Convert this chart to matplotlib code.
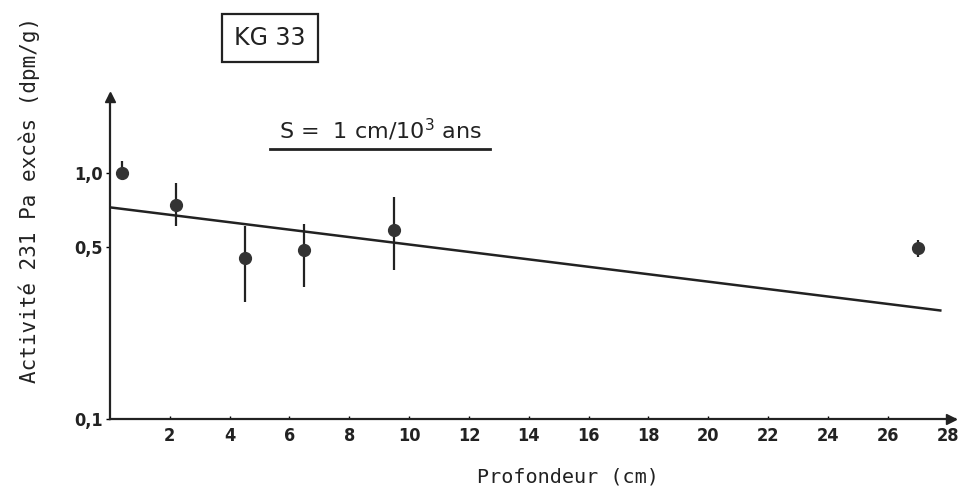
import matplotlib
matplotlib.use("Agg")
import matplotlib.pyplot as plt
from matplotlib.ticker import NullLocator, FixedLocator, FixedFormatter

# Data
depth = [0.4, 2.2, 4.5, 6.5, 9.5, 27.0]
activity = [1.00, 0.745, 0.45, 0.485, 0.585, 0.495]
err_low = [0.05, 0.135, 0.15, 0.14, 0.18, 0.04]
err_high = [0.12, 0.165, 0.16, 0.135, 0.215, 0.04]

fit_depth = [0.0, 27.8]
fit_activity = [0.726, 0.276]

x_ticks = [2, 4, 6, 8, 10, 12, 14, 16, 18, 20, 22, 24, 26, 28]
x_labels = ["2", "4", "6", "8", "10", "12", "14", "16", "18", "20", "22", "24", "26", "28"]
y_ticks = [0.1, 0.5, 1.0]
y_labels = ["0,1", "0,5", "1,0"]

fig = plt.figure(figsize=(9.6, 4.9), dpi=100)
ax = fig.add_axes([110/960, 71/490, (955-110)/960, (419-95)/490])
ax.set_yscale("log")
ax.set_xlim(0, 28.25)
ax.set_ylim(0.1, 2.08)

for s in ["top", "right"]:
    ax.spines[s].set_visible(False)
for s in ["left", "bottom"]:
    ax.spines[s].set_linewidth(1.6)
    ax.spines[s].set_color("#222222")

# arrow heads
ax.plot([0.995], [0], marker=">", color="#222222", markersize=7, transform=ax.transAxes, clip_on=False)
ax.plot([0], [0.995], marker="^", color="#222222", markersize=7, transform=ax.transAxes, clip_on=False)

# fit line
ax.plot(fit_depth, fit_activity, color="#222222", linewidth=1.8, solid_capstyle="butt")

# data points
ax.errorbar(depth, activity, yerr=[err_low, err_high], fmt="o", color="#333333",
            ecolor="#222222", elinewidth=1.6, capsize=0, markersize=8.5)

ax.yaxis.set_major_locator(FixedLocator(y_ticks))
ax.yaxis.set_major_formatter(FixedFormatter(y_labels))
ax.yaxis.set_minor_locator(NullLocator())
ax.xaxis.set_major_locator(FixedLocator(x_ticks))
ax.xaxis.set_major_formatter(FixedFormatter(x_labels))

for lab in ax.get_xticklabels() + ax.get_yticklabels():
    lab.set_fontfamily("DejaVu Sans")
    lab.set_fontweight("bold")
    lab.set_fontstretch("condensed")
    lab.set_fontsize(13)
    lab.set_color("#222222")
ax.tick_params(axis="x", length=2, width=1, direction="in", pad=6)
ax.tick_params(axis="y", length=3, width=1, direction="out", pad=2)

fig.text(568/960, 1 - 477/490, "Profondeur (cm)", family="DejaVu Sans Mono", fontsize=14.5,
         color="#222222", ha="center", va="center")
fig.text(29/960, 1 - 200/490, "Activité 231 Pa excès (dpm/g)", rotation=90,
         family="DejaVu Sans Mono", fontsize=15, color="#222222", ha="center", va="center")

# title box
fig.text(270/960, 1 - 38/490, "KG 33", family="DejaVu Sans", fontsize=17, color="#222222",
         ha="center", va="center",
         bbox=dict(boxstyle="square,pad=0.5", facecolor="white", edgecolor="#222222", linewidth=1.6))

# slope annotation
fig.text(380/960, 1 - 130/490, "S =  1 cm/10$^3$ ans", family="DejaVu Sans", fontsize=16,
         color="#222222", ha="center", va="center")
fig.add_artist(plt.Line2D([270/960, 490/960], [1 - 149/490, 1 - 149/490],
                          color="#222222", linewidth=2))

fig.savefig("out.png", dpi=100, facecolor="white")
